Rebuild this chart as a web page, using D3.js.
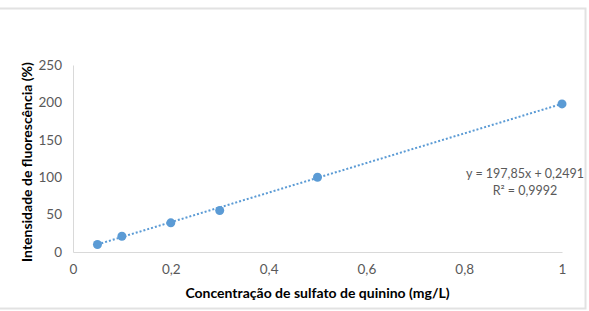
<!DOCTYPE html>
<html lang="pt">
<head>
<meta charset="UTF-8">
<title>Curva de calibração</title>
<script src="https://cdn.jsdelivr.net/npm/d3@7"></script>
<style>
  html, body { margin: 0; padding: 0; background: #fff; }
  body { font-family: 'Lato', 'Open Sans', sans-serif; }
  svg text { font-family: 'Lato', 'Open Sans', sans-serif; }
</style>
</head>
<body>
<svg id="chart"></svg>
<script>
// data
const concentrations = [0.05, 0.1, 0.2, 0.3, 0.5, 1];
const intensities = [10, 21, 39, 55.5, 100, 198];
const xTicks = [0, 0.2, 0.4, 0.6, 0.8, 1];
const yTicks = [0, 50, 100, 150, 200, 250];
const slope = 197.85, intercept = 0.2491;
const eqLines = ["y = 197,85x + 0,2491", "R² = 0,9992"];

const W = 589, H = 311;
const margin = { top: 65, right: 27, bottom: 59, left: 73 };
const width = W - margin.left - margin.right;
const height = H - margin.top - margin.bottom;

const svg = d3.select('#chart').attr('width', W).attr('height', H);

// outer frame
svg.append('rect')
    .attr('x', -2).attr('y', 8.5)
    .attr('width', 587.5).attr('height', 300)
    .attr('fill', 'none')
    .attr('stroke', '#e2e2e2')
    .attr('stroke-width', 2);

const g = svg.append('g').attr('transform', `translate(${margin.left},${margin.top})`);

const x = d3.scaleLinear().domain([0, 1]).range([0, width]);
const y = d3.scaleLinear().domain([0, 250]).range([height, 0]);

const fmt = d => d3.format('~g')(d).replace('.', ',');

const xAxis = g.append('g')
    .attr('transform', `translate(0,${height})`)
    .call(d3.axisBottom(x).tickValues(xTicks).tickFormat(fmt).tickSize(0).tickPadding(12));
xAxis.select('.domain').attr('stroke', '#d9d9d9');
xAxis.selectAll('text').attr('fill', '#595959').style('font-size', '13.5px');

const yAxis = g.append('g')
    .call(d3.axisLeft(y).tickValues(yTicks).tickSize(0).tickPadding(11));
yAxis.select('.domain').attr('stroke', '#d9d9d9');
yAxis.selectAll('text').attr('fill', '#595959').style('font-size', '13.5px');

// trendline
const xs = d3.extent(concentrations);
g.append('line')
    .attr('x1', x(xs[0])).attr('y1', y(slope * xs[0] + intercept))
    .attr('x2', x(xs[1])).attr('y2', y(slope * xs[1] + intercept))
    .attr('stroke', '#5b9bd5')
    .attr('stroke-width', 2)
    .attr('stroke-dasharray', '2,2');

// points
g.selectAll('.pt')
    .data(concentrations)
    .enter().append('circle')
    .attr('class', 'pt')
    .attr('cx', d => x(d))
    .attr('cy', (d, i) => y(intensities[i]))
    .attr('r', 4.5)
    .attr('fill', '#5b9bd5');

// equation label
const eq = svg.append('text')
    .attr('text-anchor', 'middle')
    .attr('fill', '#595959')
    .style('font-size', '12.5px');
eq.append('tspan').attr('x', 525).attr('y', 178).text(eqLines[0]);
eq.append('tspan').attr('x', 525).attr('y', 195).text(eqLines[1]);

// axis titles
svg.append('text')
    .attr('x', margin.left + width / 2)
    .attr('y', 298)
    .attr('text-anchor', 'middle')
    .attr('fill', '#000')
    .style('font-size', '14px')
    .style('font-weight', 'bold')
    .text('Concentração de sulfato de quinino (mg/L)');

svg.append('text')
    .attr('transform', `translate(32,${162}) rotate(-90)`)
    .attr('text-anchor', 'middle')
    .attr('fill', '#000')
    .style('font-size', '14px')
    .style('font-weight', 'bold')
    .text('Intensidade de fluorescência (%)');
</script>
</body>
</html>
